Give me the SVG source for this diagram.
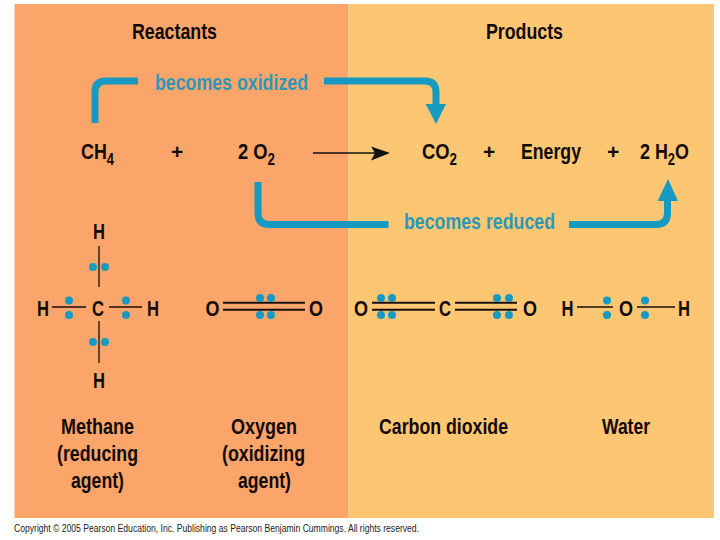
<svg xmlns="http://www.w3.org/2000/svg" width="720" height="540" viewBox="0 0 720 540">
<defs><style>
text{font-family:"Liberation Sans",Arial,sans-serif;font-weight:700;fill:#120a08;font-size:22px}
.a{fill:#2b99b6;font-size:22px}
.s{font-size:16px}
.p{font-size:21px}
.cr{font-size:10px;font-weight:400;fill:#222}
.flow{fill:none;stroke:#179ac2;stroke-width:7}
.head{fill:#179ac2}
.bond{stroke:#1a0f0a;stroke-width:1.3;fill:none}
.dbl{stroke:#1a0f0a;stroke-width:2;fill:none}
.e{fill:#179ac2}
</style></defs>
<rect id="reactants-panel" x="14.500" y="4" width="334" height="514" fill="#fba56a"/>
<rect id="products-panel" x="348.500" y="4" width="365.500" height="514" fill="#fdc672"/>
<g id="connectors">
<path class="flow" d="M95 123V92Q95 81 106 81H138"/>
<path class="flow" d="M324 81H425Q436 81 436 92V106"/>
<polygon class="head" points="425.700,104 446,104 436,124"/>
<path class="flow" d="M258 182V213Q258 224.500 269 224.500H388.500"/>
<path class="flow" d="M569 224.500H656Q667.500 224.500 667.500 213V198"/>
<polygon class="head" points="657.700,201 678,201 668,179"/>
<path d="M313 153H376" stroke="#111" stroke-width="1.300" fill="none"/>
<polygon points="390,153 371,146.500 375,153 371,160.500" fill="#111"/>
</g>
<g id="headers">
<text x="132" y="39" textLength="85" lengthAdjust="spacingAndGlyphs">Reactants</text>
<text x="486" y="39" textLength="77" lengthAdjust="spacingAndGlyphs">Products</text>
</g>
<g id="label-oxidized"><text class="a" x="155" y="90" textLength="153" lengthAdjust="spacingAndGlyphs">becomes oxidized</text></g>
<g id="label-reduced"><text class="a" x="404" y="229" textLength="151" lengthAdjust="spacingAndGlyphs">becomes reduced</text></g>
<g id="equation">
<text x="81" y="159" textLength="33" lengthAdjust="spacingAndGlyphs">CH<tspan class="s" dy="6">4</tspan></text>
<text class="p" x="171" y="159">+</text>
<text x="238" y="159" textLength="37" lengthAdjust="spacingAndGlyphs">2 O<tspan class="s" dy="6">2</tspan></text>
<text x="422" y="159" textLength="35" lengthAdjust="spacingAndGlyphs">CO<tspan class="s" dy="6">2</tspan></text>
<text class="p" x="483" y="159">+</text>
<text x="521" y="159" textLength="60" lengthAdjust="spacingAndGlyphs">Energy</text>
<text class="p" x="607" y="159">+</text>
<text x="640" y="159" textLength="49" lengthAdjust="spacingAndGlyphs">2 H<tspan class="s" dy="6">2</tspan><tspan dy="-6">O</tspan></text>
</g>
<g id="methane">
<path class="bond" d="M99 246V287M99 321V363M52 307H86M109 307H142"/>
<circle class="e" cx="93" cy="267" r="4"/><circle class="e" cx="105" cy="267" r="4"/>
<circle class="e" cx="93" cy="342" r="4"/><circle class="e" cx="105" cy="342" r="4"/>
<circle class="e" cx="69" cy="300.500" r="4"/><circle class="e" cx="69" cy="315" r="4"/>
<circle class="e" cx="126" cy="300.500" r="4"/><circle class="e" cx="126" cy="315" r="4"/>
<text x="93" y="239" textLength="12" lengthAdjust="spacingAndGlyphs">H</text>
<text x="37" y="316" textLength="12" lengthAdjust="spacingAndGlyphs">H</text>
<text x="92" y="316" textLength="12" lengthAdjust="spacingAndGlyphs">C</text>
<text x="147" y="316" textLength="12" lengthAdjust="spacingAndGlyphs">H</text>
<text x="93" y="388" textLength="12" lengthAdjust="spacingAndGlyphs">H</text>
<text x="61" y="434" textLength="73" lengthAdjust="spacingAndGlyphs">Methane</text>
<text x="57" y="461" textLength="81" lengthAdjust="spacingAndGlyphs">(reducing</text>
<text x="71" y="488" textLength="53" lengthAdjust="spacingAndGlyphs">agent)</text>
</g>
<g id="oxygen">
<path class="dbl" d="M223 302.700H305M223 309.800H305"/>
<circle class="e" cx="260" cy="298" r="4"/><circle class="e" cx="271" cy="298" r="4"/>
<circle class="e" cx="260" cy="315" r="4"/><circle class="e" cx="271" cy="315" r="4"/>
<text x="205.500" y="316" textLength="14" lengthAdjust="spacingAndGlyphs">O</text>
<text x="309" y="316" textLength="14" lengthAdjust="spacingAndGlyphs">O</text>
<text x="231" y="434" textLength="66" lengthAdjust="spacingAndGlyphs">Oxygen</text>
<text x="222" y="461" textLength="83" lengthAdjust="spacingAndGlyphs">(oxidizing</text>
<text x="238" y="488" textLength="53" lengthAdjust="spacingAndGlyphs">agent)</text>
</g>
<g id="carbon-dioxide">
<path class="dbl" d="M372 302.700H435M372 309.800H435M455 302.700H517M455 309.800H517"/>
<circle class="e" cx="381" cy="298" r="4"/><circle class="e" cx="392" cy="298" r="4"/>
<circle class="e" cx="381" cy="315" r="4"/><circle class="e" cx="392" cy="315" r="4"/>
<circle class="e" cx="497" cy="298" r="4"/><circle class="e" cx="509" cy="298" r="4"/>
<circle class="e" cx="497" cy="315" r="4"/><circle class="e" cx="509" cy="315" r="4"/>
<text x="354" y="316" textLength="14" lengthAdjust="spacingAndGlyphs">O</text>
<text x="439" y="316" textLength="12" lengthAdjust="spacingAndGlyphs">C</text>
<text x="523" y="316" textLength="14" lengthAdjust="spacingAndGlyphs">O</text>
<text x="379" y="434" textLength="129" lengthAdjust="spacingAndGlyphs">Carbon dioxide</text>
</g>
<g id="water">
<path class="bond" d="M577 307H613M637 307H675"/>
<circle class="e" cx="607" cy="300.500" r="4"/><circle class="e" cx="607" cy="315" r="4"/>
<circle class="e" cx="645" cy="300.500" r="4"/><circle class="e" cx="645" cy="315" r="4"/>
<text x="561.500" y="316" textLength="12" lengthAdjust="spacingAndGlyphs">H</text>
<text x="619" y="316" textLength="14" lengthAdjust="spacingAndGlyphs">O</text>
<text x="678" y="316" textLength="12" lengthAdjust="spacingAndGlyphs">H</text>
<text x="602" y="434" textLength="48" lengthAdjust="spacingAndGlyphs">Water</text>
</g>
<g id="copyright"><text class="cr" x="14" y="532" textLength="405" lengthAdjust="spacingAndGlyphs">Copyright © 2005 Pearson Education, Inc. Publishing as Pearson Benjamin Cummings. All rights reserved.</text></g>
</svg>
